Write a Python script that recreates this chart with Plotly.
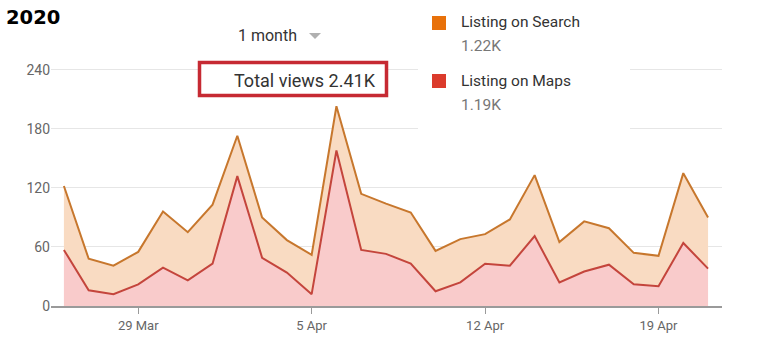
import plotly.graph_objects as go

# ---- data ----
dates = ["2020-03-26", "2020-03-27", "2020-03-28", "2020-03-29", "2020-03-30", "2020-03-31",
         "2020-04-01", "2020-04-02", "2020-04-03", "2020-04-04", "2020-04-05", "2020-04-06",
         "2020-04-07", "2020-04-08", "2020-04-09", "2020-04-10", "2020-04-11", "2020-04-12",
         "2020-04-13", "2020-04-14", "2020-04-15", "2020-04-16", "2020-04-17", "2020-04-18",
         "2020-04-19", "2020-04-20", "2020-04-21"]
maps_views = [57, 16, 12, 22, 39, 26, 43, 132, 49, 34, 12, 158, 57, 53, 43, 15, 24, 43,
              41, 71, 24, 35, 42, 22, 20, 64, 38]
search_views = [65, 32, 29, 33, 57, 49, 60, 41, 41, 33, 40, 45, 57, 51, 52, 41, 44, 30,
                47, 62, 41, 51, 37, 32, 31, 71, 52]
tick_vals = ["2020-03-29", "2020-04-05", "2020-04-12", "2020-04-19"]
tick_text = ["29 Mar", "5 Apr", "12 Apr", "19 Apr"]
y_ticks = [0, 60, 120, 180, 240]
series_names = ["Listing on Search", "Listing on Maps"]
series_totals = ["1.22K", "1.19K"]
total_label = "Total views 2.41K"
period_label = "1 month"
title_text = "2020"

W, H = 764, 352
L, R, T, B = 51, 42, 60, 46
PW, PH = W - L - R, H - T - B


def px(x):
    return (x - L) / PW


def py(y):
    return (H - B - y) / PH


FONT = "Roboto, Arial, sans-serif"

fig = go.Figure()
fig.add_trace(go.Scatter(
    x=dates, y=maps_views, name=series_names[1], stackgroup="one", mode="lines",
    line=dict(color="#c4453c", width=2), fillcolor="#f9cbcb"))
fig.add_trace(go.Scatter(
    x=dates, y=search_views, name=series_names[0], stackgroup="one", mode="lines",
    line=dict(color="#c7772d", width=2), fillcolor="#f9dbc2"))

shapes = []
# white legend background hiding gridlines
shapes.append(dict(type="rect", xref="paper", yref="paper", x0=px(418), x1=px(630),
                   y0=py(140), y1=py(2), fillcolor="white", line=dict(width=0), layer="above"))
# total views box
shapes.append(dict(type="rect", xref="paper", yref="paper", x0=px(199.5), x1=px(386.5),
                   y0=py(95.5), y1=py(62.5), fillcolor="white",
                   line=dict(color="#c62a33", width=3.5), layer="above"))
# dropdown triangle
shapes.append(dict(type="path", xref="paper", yref="paper",
                   path=f"M {px(309)} {py(33)} L {px(321)} {py(33)} L {px(315)} {py(39)} Z",
                   fillcolor="#b0b0b0", line=dict(width=0), layer="above"))
# legend squares
leg_colors = ["#e8710a", "#db3b2c"]
leg_y = [16, 74]
for c, y0 in zip(leg_colors, leg_y):
    shapes.append(dict(type="rect", xref="paper", yref="paper", x0=px(432), x1=px(446),
                       y0=py(y0 + 14), y1=py(y0), fillcolor=c, line=dict(width=0), layer="above"))

annotations = [
    dict(text=f"<b>{title_text}</b>", x=px(4), y=py(17), xref="paper", yref="paper",
         xanchor="left", yanchor="middle", showarrow=False,
         font=dict(family="DejaVu Sans", size=19.5, color="#000")),
    dict(text=period_label, x=px(236), y=py(35), xref="paper", yref="paper",
         xanchor="left", yanchor="middle", showarrow=False,
         font=dict(family=FONT, size=16, color="#333")),
    dict(text=total_label, x=px(378), y=py(80), xref="paper", yref="paper",
         xanchor="right", yanchor="middle", showarrow=False,
         font=dict(family=FONT, size=18, color="#333")),
]
for name, tot, y0 in zip(series_names, series_totals, [22, 81]):
    annotations.append(dict(text=name, x=px(459), y=py(y0), xref="paper", yref="paper",
                            xanchor="left", yanchor="middle", showarrow=False,
                            font=dict(family=FONT, size=15.5, color="#333")))
    annotations.append(dict(text=tot, x=px(459), y=py(y0 + 24), xref="paper", yref="paper",
                            xanchor="left", yanchor="middle", showarrow=False,
                            font=dict(family=FONT, size=15.5, color="#777")))

fig.update_layout(
    width=W, height=H, margin=dict(l=L, r=R, t=T, b=B),
    paper_bgcolor="white", plot_bgcolor="white", showlegend=False,
    shapes=shapes, annotations=annotations,
    xaxis=dict(type="date", range=["2020-03-25T11:30", "2020-04-21T13:30"],
               tickvals=tick_vals, ticktext=tick_text, showgrid=False,
               showline=True, linecolor="#9a9a9a", linewidth=2,
               ticks="outside", ticklen=6, tickcolor="#9a9a9a", tickwidth=1,
               tickfont=dict(family=FONT, size=13, color="#666"), zeroline=False),
    yaxis=dict(range=[0, 250], tickvals=y_ticks, showgrid=True, gridcolor="#e6e6e6",
               gridwidth=1, zeroline=False, showline=False, ticks="",
               tickfont=dict(family=FONT, size=14, color="#666")),
)

fig.write_html("out.html")
